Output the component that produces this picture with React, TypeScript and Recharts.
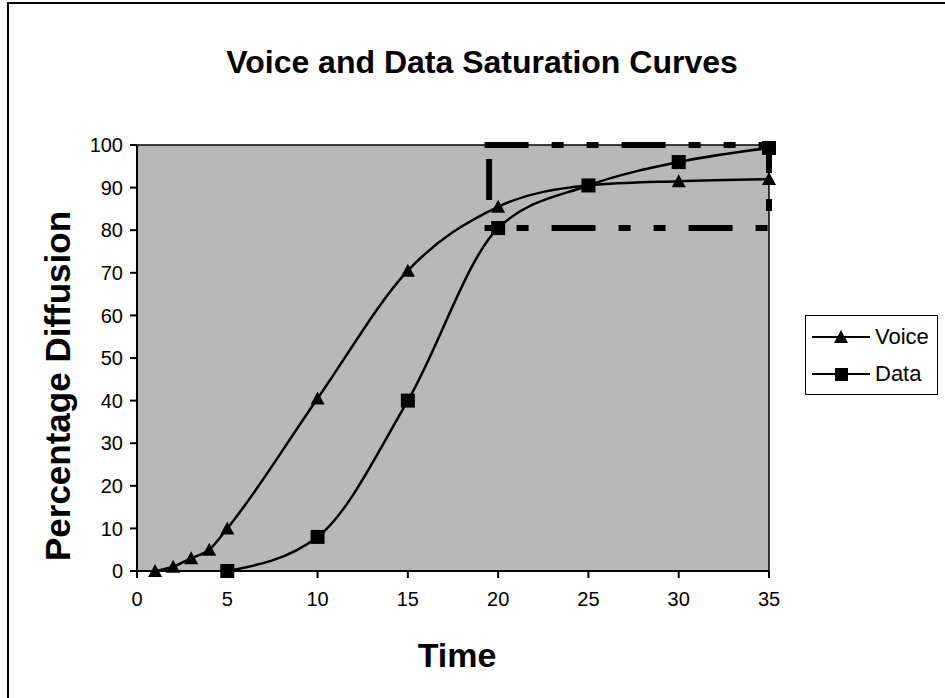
import { LineChart, Line, XAxis, YAxis, CartesianGrid, ReferenceLine } from "recharts";

const voiceTimes = [1, 2, 3, 4, 5, 10, 15, 20, 25, 30, 35];
const voiceValues = [0, 1, 3, 5, 10, 40.5, 70.5, 85.5, 90.5, 91.5, 92];
const dataTimes = [5, 10, 15, 20, 25, 30, 35];
const dataValues = [0, 8, 40, 80.5, 90.5, 96, 99.3];
const xTicks = [0, 5, 10, 15, 20, 25, 30, 35];
const yTicks = [0, 10, 20, 30, 40, 50, 60, 70, 80, 90, 100];

const voice = voiceTimes.map((t, i) => ({ t, v: voiceValues[i] }));
const data = dataTimes.map((t, i) => ({ t, v: dataValues[i] }));

const FONT = "'Liberation Sans', Arial, Helvetica, sans-serif";
const DASH = "44 23 12 23 12 23";

function Triangle(props: any) {
  const { cx, cy } = props;
  if (cx == null || cy == null) return null;
  return <path d={`M${cx},${cy - 7}L${cx + 7},${cy + 6}L${cx - 7},${cy + 6}Z`} fill="#000" />;
}

function Square(props: any) {
  const { cx, cy } = props;
  if (cx == null || cy == null) return null;
  return <rect x={cx - 7} y={cy - 7} width={14} height={14} fill="#000" />;
}

function LegendBox() {
  const row = (label: string, marker: "tri" | "sq") => (
    <div style={{ display: "flex", alignItems: "center", height: 37 }}>
      <svg width={58} height={20} style={{ marginRight: 5 }}>
        <line x1={0} y1={10} x2={58} y2={10} stroke="#000" strokeWidth={2} />
        {marker === "tri" ? (
          <path d="M29,3L36,16L22,16Z" fill="#000" />
        ) : (
          <rect x={23} y={4} width={13} height={13} fill="#000" />
        )}
      </svg>
      <span style={{ fontSize: 22, fontFamily: FONT }}>{label}</span>
    </div>
  );
  return (
    <div
      style={{
        position: "absolute",
        left: 805,
        top: 315,
        border: "1.5px solid #000",
        width: 133,
        height: 80,
        boxSizing: "border-box",
        padding: "2px 0 0 6px",
        background: "#fff",
      }}
    >
      {row("Voice", "tri")}
      {row("Data", "sq")}
    </div>
  );
}

export default function App() {
  return (
    <div
      style={{
        position: "absolute",
        left: 0,
        top: 0,
        width: 945,
        height: 698,
        background: "#fff",
        fontFamily: FONT,
      }}
    >
      <div style={{ position: "absolute", left: 7, top: 2, width: 938, height: 2, background: "#000" }} />
      <div style={{ position: "absolute", left: 7, top: 2, width: 2, height: 696, background: "#000" }} />

      <div
        style={{
          position: "absolute",
          left: 482,
          top: 62,
          transform: "translate(-50%, -50%)",
          whiteSpace: "nowrap",
          fontSize: 32,
          fontWeight: "bold",
        }}
      >
        Voice and Data Saturation Curves
      </div>

      <div
        style={{
          position: "absolute",
          left: 58,
          top: 386,
          transform: "translate(-50%, -50%) rotate(-90deg)",
          whiteSpace: "nowrap",
          fontSize: 35,
          fontWeight: "bold",
        }}
      >
        Percentage Diffusion
      </div>

      <div
        style={{
          position: "absolute",
          left: 457,
          top: 655,
          transform: "translate(-50%, -50%)",
          fontSize: 34,
          fontWeight: "bold",
        }}
      >
        Time
      </div>

      <div style={{ position: "absolute", left: 0, top: 0 }}>
        <LineChart width={945} height={698} margin={{ top: 145, right: 176, left: 77, bottom: 97 }}>
          <CartesianGrid horizontal={false} vertical={false} fill="#b8b8b8" />
          <XAxis
            type="number"
            dataKey="t"
            domain={[0, 35]}
            ticks={xTicks}
            allowDuplicatedCategory={false}
            height={30}
            tickSize={7}
            tickMargin={14}
            stroke="#000"
            strokeWidth={2}
            tick={{ fill: "#000", fontSize: 20, fontFamily: FONT }}
          />
          <YAxis
            type="number"
            domain={[0, 100]}
            ticks={yTicks}
            width={60}
            tickSize={7}
            tickMargin={7}
            stroke="#000"
            strokeWidth={2}
            tick={{ fill: "#000", fontSize: 20, fontFamily: FONT }}
          />
          <ReferenceLine y={100} stroke="#000" strokeWidth={1.5} />
          <ReferenceLine x={35} stroke="#000" strokeWidth={1.5} />
          <ReferenceLine
            segment={[{ x: 19.25, y: 100 }, { x: 35, y: 100 }]}
            stroke="#000"
            strokeWidth={6}
            strokeDasharray={DASH}
          />
          <ReferenceLine
            segment={[{ x: 19.25, y: 80.5 }, { x: 35, y: 80.5 }]}
            stroke="#000"
            strokeWidth={6}
            strokeDasharray={DASH}
            strokeDashoffset={70}
          />
          <ReferenceLine
            segment={[{ x: 19.5, y: 100 }, { x: 19.5, y: 80.5 }]}
            stroke="#000"
            strokeWidth={6}
            strokeDasharray="0 14 41 200"
          />
          <ReferenceLine
            segment={[{ x: 35, y: 100 }, { x: 35, y: 80.5 }]}
            stroke="#000"
            strokeWidth={6}
            strokeDasharray="28 26 12 40"
          />
          <Line
            data={voice}
            dataKey="v"
            name="Voice"
            type="monotone"
            stroke="#000"
            strokeWidth={2.5}
            dot={<Triangle />}
            activeDot={false}
            isAnimationActive={false}
          />
          <Line
            data={data}
            dataKey="v"
            name="Data"
            type="monotone"
            stroke="#000"
            strokeWidth={2.5}
            dot={<Square />}
            activeDot={false}
            isAnimationActive={false}
          />
        </LineChart>
      </div>
      <LegendBox />
    </div>
  );
}
